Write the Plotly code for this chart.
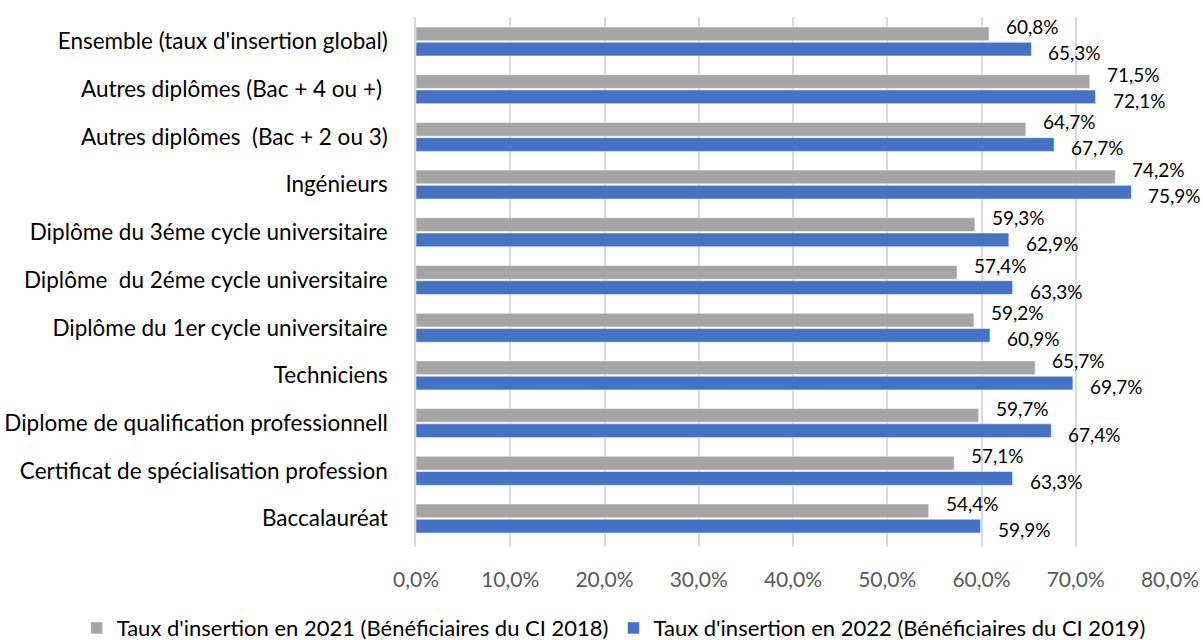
import plotly.graph_objects as go

# Categories, listed top to bottom
categories = [
    "Ensemble (taux d'insertion global)",
    "Autres diplômes (Bac + 4 ou +) ",
    "Autres diplômes  (Bac + 2 ou 3)",
    "Ingénieurs",
    "Diplôme du 3éme cycle universitaire",
    "Diplôme  du 2éme cycle universitaire",
    "Diplôme du 1er cycle universitaire",
    "Techniciens",
    "Diplome de qualification professionnell",
    "Certificat de spécialisation profession",
    "Baccalauréat",
]

taux_2021 = [60.8, 71.5, 64.7, 74.2, 59.3, 57.4, 59.2, 65.7, 59.7, 57.1, 54.4]
taux_2022 = [65.3, 72.1, 67.7, 75.9, 62.9, 63.3, 60.9, 69.7, 67.4, 63.3, 59.9]

name_2021 = "Taux d'insertion en 2021 (Bénéficiaires du CI 2018)"
name_2022 = "Taux d'insertion en 2022 (Bénéficiaires du CI 2019)"

tick_vals = [0, 10, 20, 30, 40, 50, 60, 70, 80]
tick_labels = ["0,0%", "10,0%", "20,0%", "30,0%", "40,0%",
               "50,0%", "60,0%", "70,0%", "80,0%"]

GRAY = "#A5A5A5"
BLUE = "#4472C4"
FONT = "Lato, 'Open Sans', sans-serif"

fig = go.Figure()
fig.add_trace(go.Bar(
    y=categories, x=taux_2021, orientation="h", name=name_2021,
    marker=dict(color=GRAY, line=dict(color="rgba(255,255,255,0.5)", width=1)),
))
fig.add_trace(go.Bar(
    y=categories, x=taux_2022, orientation="h", name=name_2022,
    marker=dict(color=BLUE, line=dict(color="rgba(255,255,255,0.5)", width=1)),
))


def fmt(v):
    return f"{v:.1f}".replace(".", ",") + "%"


# Value labels beside each bar end
for cat, v in zip(categories, taux_2021):
    fig.add_annotation(x=v, y=cat, text=fmt(v), showarrow=False,
                       xanchor="left", yanchor="middle", xshift=15, yshift=15,
                       font=dict(family=FONT, size=19, color="#000000"))
for cat, v in zip(categories, taux_2022):
    fig.add_annotation(x=v, y=cat, text=fmt(v), showarrow=False,
                       xanchor="left", yanchor="middle", xshift=15, yshift=-11,
                       font=dict(family=FONT, size=19, color="#000000"))

fig.update_layout(
    width=1203, height=640,
    margin=dict(l=416, r=33, t=17, b=93, autoexpand=False),
    paper_bgcolor="white", plot_bgcolor="white",
    barmode="group", bargap=0.36, bargroupgap=0.1,
    font=dict(family=FONT, size=21, color="#000000"),
    showlegend=True,
    # legend sits below the plot, anchored in the left margin so it may span the full width
    legend=dict(orientation="h",
                x=-0.45, xanchor="left",
                y=-0.153, yanchor="middle",
                font=dict(family=FONT, size=22, color="#000000"),
                itemwidth=30, tracegroupgap=0,
                traceorder="normal"),
)
fig.update_xaxes(
    range=[0, 80], tickmode="array", tickvals=tick_vals, ticktext=tick_labels,
    showgrid=True, gridcolor="#D9D9D9", gridwidth=1.5,
    zeroline=False, showline=False,
    ticks="outside", ticklen=14, tickcolor="rgba(0,0,0,0)",
    tickfont=dict(family=FONT, size=21, color="#595959"),
)
fig.update_yaxes(
    autorange="reversed", showgrid=False, zeroline=False,
    showline=True, linecolor="#D9D9D9", linewidth=1.5,
    ticks="outside", ticklen=22, tickcolor="rgba(0,0,0,0)",
    tickfont=dict(family=FONT, size=22.5, color="#000000"),
)

fig.write_html("out.html")
